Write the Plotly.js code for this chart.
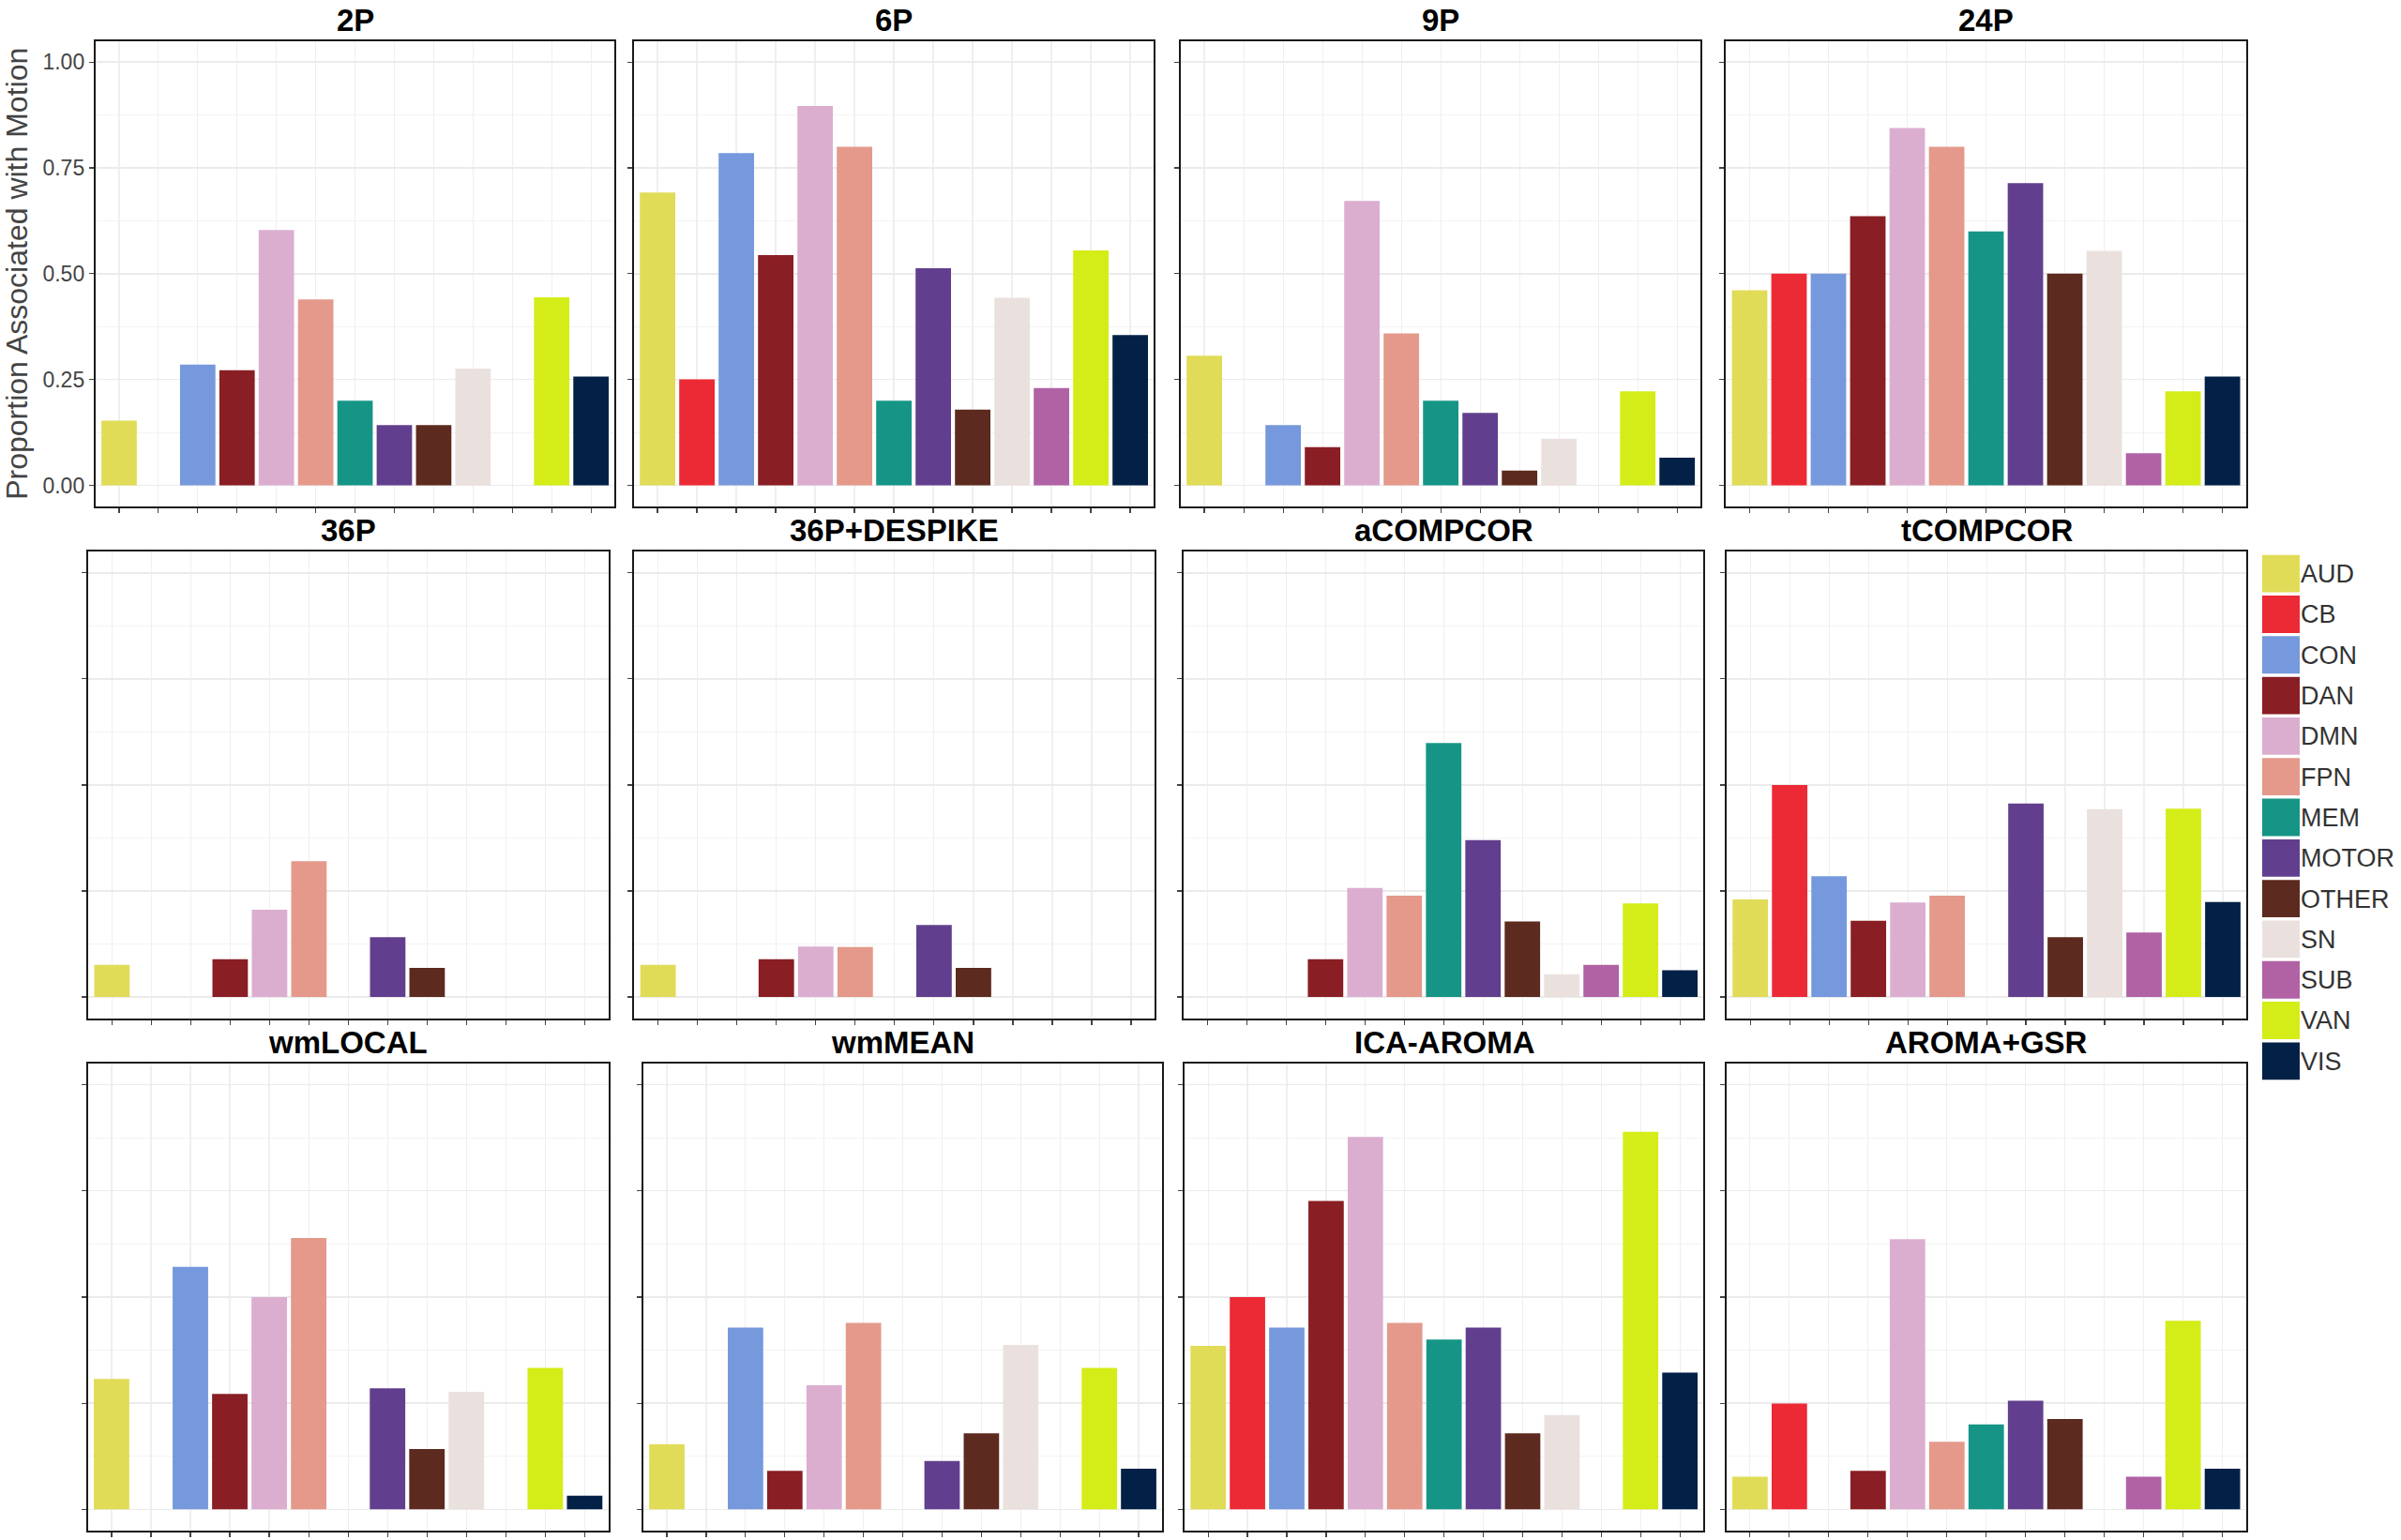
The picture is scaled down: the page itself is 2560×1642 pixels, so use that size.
<!DOCTYPE html>
<html>
<head>
<meta charset="utf-8">
<script src="https://cdn.plot.ly/plotly-3.0.1.min.js"></script>
<style>html,body{margin:0;padding:0;background:#fff;}#chart{width:2560px;height:1642px;}</style>
</head>
<body>
<div id="chart"></div>
<script>
// ---------- DATA ----------
const categories = ['AUD','CB','CON','DAN','DMN','FPN','MEM','MOTOR','OTHER','SN','SUB','VAN','VIS'];
const colors = ['#E1DC57','#EC2A35','#7698DC','#891E24','#DBAED0','#E4998B','#169587','#623F8E','#5C2A1F','#EAE1DF','#B062A4','#D4ED18','#032146'];

const panelNames = ['2P','6P','9P','24P','36P','36P+DESPIKE','aCOMPCOR','tCOMPCOR','wmLOCAL','wmMEAN','ICA-AROMA','AROMA+GSR'];

const v2P         = [0.153, 0,     0.285, 0.272, 0.603, 0.439, 0.200, 0.142, 0.142, 0.276, 0,     0.444, 0.257];
const v6P         = [0.692, 0.250, 0.785, 0.544, 0.896, 0.800, 0.200, 0.513, 0.179, 0.443, 0.230, 0.555, 0.355];
const v9P         = [0.306, 0,     0.142, 0.090, 0.672, 0.359, 0.200, 0.171, 0.035, 0.110, 0,     0.222, 0.065];
const v24P        = [0.461, 0.500, 0.500, 0.636, 0.844, 0.800, 0.600, 0.714, 0.500, 0.554, 0.076, 0.222, 0.257];
const v36P        = [0.076, 0,     0,     0.089, 0.206, 0.320, 0,     0.141, 0.069, 0,     0,     0,     0];
const v36PDespike = [0.076, 0,     0,     0.089, 0.119, 0.118, 0,     0.170, 0.069, 0,     0,     0,     0];
const vACompCor   = [0,     0,     0,     0.089, 0.257, 0.239, 0.599, 0.370, 0.178, 0.054, 0.076, 0.221, 0.063];
const vTCompCor   = [0.230, 0.500, 0.285, 0.180, 0.223, 0.239, 0,     0.456, 0.141, 0.443, 0.152, 0.444, 0.224];
const vWmLocal    = [0.307, 0,     0.571, 0.272, 0.500, 0.639, 0,     0.285, 0.142, 0.277, 0,     0.333, 0.032];
const vWmMean     = [0.153, 0,     0.428, 0.091, 0.292, 0.439, 0,     0.114, 0.179, 0.387, 0,     0.333, 0.096];
const vIcaAroma   = [0.385, 0.500, 0.428, 0.726, 0.877, 0.439, 0.400, 0.428, 0.179, 0.222, 0,     0.889, 0.322];
const vAromaGsr   = [0.077, 0.249, 0,     0.091, 0.636, 0.159, 0.200, 0.256, 0.213, 0,     0.077, 0.444, 0.096];

const panelValues = [v2P, v6P, v9P, v24P, v36P, v36PDespike, vACompCor, vTCompCor, vWmLocal, vWmMean, vIcaAroma, vAromaGsr];

const yTickVals = [0, 0.25, 0.5, 0.75, 1.0];
const yTickText = ['0.00', '0.25', '0.50', '0.75', '1.00'];
const yTitle = 'Proportion Associated with Motion';

// ---------- LAYOUT (pixel boxes: left, right, top, bottom) ----------
const W = 2560, H = 1642;
const boxes = [
  [101.8, 655.3, 43.6, 540], [675.9, 1230.3, 43.6, 540], [1258.9, 1813.4, 43.6, 540], [1840.3, 2394.8, 43.6, 540],
  [94.2, 648.6, 588.2, 1085.7], [676.4, 1231.3, 588.2, 1085.7], [1262.2, 1816.3, 588.2, 1085.7], [1841, 2395.2, 588.2, 1085.7],
  [93.7, 648.6, 1133.8, 1632], [685.9, 1239.2, 1133.8, 1632], [1263, 1816.3, 1133.8, 1632], [1840.7, 2394.8, 1133.8, 1632]
];
const legendBox = [2412, 2452, 590, 1153];

const FONT = 'Liberation Sans, Arial, Helvetica, sans-serif';
const traces = [];
const layout = {
  width: W, height: H,
  margin: {l: 0, r: 0, t: 0, b: 0},
  paper_bgcolor: '#ffffff', plot_bgcolor: '#ffffff',
  showlegend: false,
  font: {family: FONT, color: '#222'},
  annotations: []
};

function sfx(i) { return i === 0 ? '' : String(i + 1); }

panelNames.forEach((name, i) => {
  const s = sfx(i);
  const b = boxes[i];
  traces.push({
    type: 'bar', x: categories, y: panelValues[i],
    xaxis: 'x' + s, yaxis: 'y' + s,
    width: 0.9,
    marker: {color: colors, line: {width: 0}},
    hoverinfo: 'x+y'
  });
  layout['xaxis' + s] = {
    domain: [b[0] / W, b[1] / W],
    anchor: 'y' + s,
    type: 'category',
    range: [-0.6, 12.6],
    showline: true, mirror: true, linecolor: '#1a1a1a', linewidth: 2,
    showgrid: true, gridcolor: '#efefef', gridwidth: 1.2,
    ticks: 'outside', ticklen: 5, tickwidth: 1.2, tickcolor: '#444',
    showticklabels: false, zeroline: false, fixedrange: true
  };
  layout['yaxis' + s] = {
    domain: [1 - b[3] / H, 1 - b[2] / H],
    anchor: 'x' + s,
    range: [-0.05, 1.05],
    tickvals: yTickVals, ticktext: yTickText,
    showline: true, mirror: true, linecolor: '#1a1a1a', linewidth: 2,
    showgrid: true, gridcolor: '#ebebeb', gridwidth: 1.6,
    minor: {showgrid: true, gridcolor: '#f3f3f3', gridwidth: 1, tickvals: [0.125, 0.375, 0.625, 0.875]},
    ticks: 'outside', ticklen: 5, tickwidth: 1.2, tickcolor: '#444',
    showticklabels: i === 0,
    tickfont: {family: FONT, size: 23, color: '#444'},
    zeroline: false, fixedrange: true
  };
  if (i === 0) {
    layout['yaxis' + s].title = {text: yTitle, font: {family: FONT, size: 32, color: '#444'}, standoff: 8};
  }
  layout.annotations.push({
    text: name, showarrow: false,
    xref: 'x' + s + ' domain', yref: 'y' + s + ' domain',
    x: 0.5, y: 1, xanchor: 'center', yanchor: 'bottom', yshift: 2,
    font: {family: FONT, size: 33, color: '#000', weight: 'bold'}
  });
});

// ---------- LEGEND as a small bar subplot ----------
const li = panelNames.length;
const ls = sfx(li);
const legendOnes = categories.map(() => 1);
traces.push({
  type: 'bar', orientation: 'h', y: categories, x: legendOnes,
  xaxis: 'x' + ls, yaxis: 'y' + ls, width: 0.92,
  marker: {color: colors, line: {width: 0}}, hoverinfo: 'y'
});
layout['xaxis' + ls] = {
  domain: [legendBox[0] / W, legendBox[1] / W], anchor: 'y' + ls,
  range: [0, 1], showgrid: false, showline: false, zeroline: false,
  showticklabels: false, ticks: '', fixedrange: true
};
layout['yaxis' + ls] = {
  domain: [1 - legendBox[3] / H, 1 - legendBox[2] / H], anchor: 'x' + ls,
  type: 'category', range: [12.5, -0.5], side: 'right',
  showgrid: false, showline: false, zeroline: false, ticks: '',
  tickfont: {family: FONT, size: 27, color: '#333'}, ticklabelstandoff: 0,
  fixedrange: true
};

Plotly.newPlot('chart', traces, layout, {displayModeBar: false, staticPlot: true});
</script>
</body>
</html>
